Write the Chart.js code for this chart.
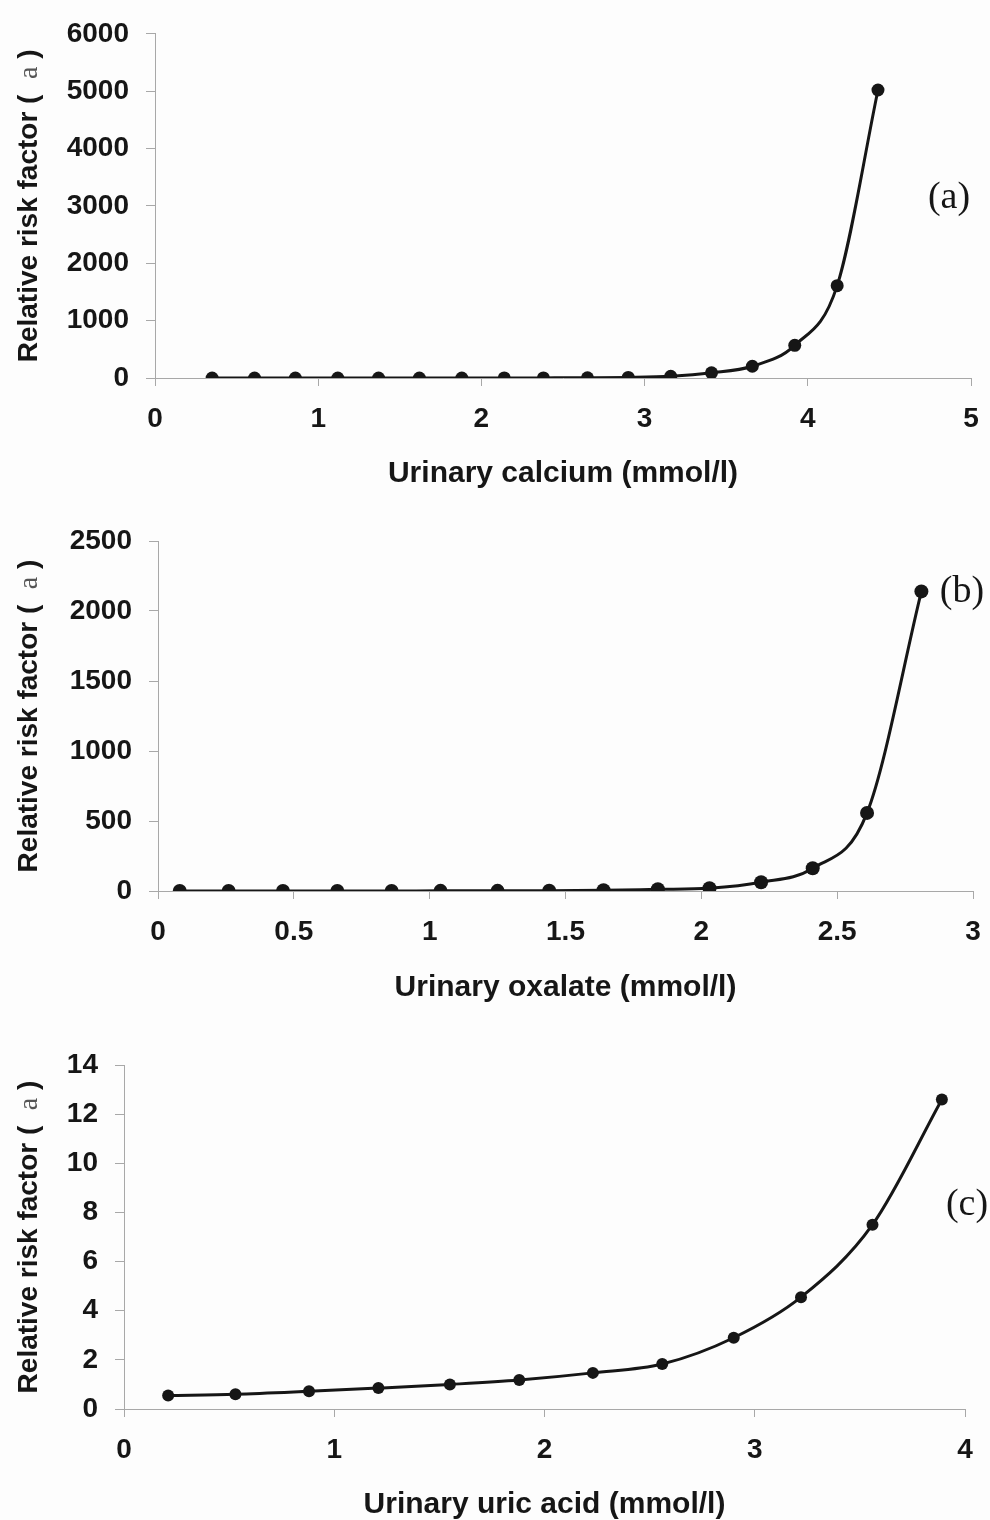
<!DOCTYPE html>
<html>
<head>
<meta charset="utf-8">
<script src="https://cdn.jsdelivr.net/npm/chart.js@4.4.0/dist/chart.umd.min.js"></script>
<style>
  html, body { margin: 0; padding: 0; background: #fdfdfd; }
  .panel { position: absolute; left: 0; }
</style>
</head>
<body>
<canvas id="chartA" class="panel" style="top:0px" width="990" height="500"></canvas>
<canvas id="chartB" class="panel" style="top:500px" width="990" height="510"></canvas>
<canvas id="chartC" class="panel" style="top:1010px" width="990" height="510"></canvas>
<script>
// (a) urinary calcium
const calciumX = [0.35, 0.61, 0.86, 1.12, 1.37, 1.62, 1.88, 2.14, 2.38, 2.65, 2.90, 3.16, 3.41, 3.66, 3.92, 4.18, 4.43];
const calciumRisk = [0, 0, 0, 0, 0, 0, 0, 1, 2, 4, 10, 30, 90, 205, 570, 1610, 5020];
const calciumXTicks = [0, 1, 2, 3, 4, 5];
const calciumYTicks = [0, 1000, 2000, 3000, 4000, 5000, 6000];

// (b) urinary oxalate
const oxalateX = [0.08, 0.26, 0.46, 0.66, 0.86, 1.04, 1.25, 1.44, 1.64, 1.84, 2.03, 2.22, 2.41, 2.61, 2.81];
const oxalateRisk = [0, 0, 0, 0, 0, 1, 1, 2, 5, 12, 20, 62, 162, 558, 2140];
const oxalateXTicks = [0, 0.5, 1, 1.5, 2, 2.5, 3];
const oxalateYTicks = [0, 500, 1000, 1500, 2000, 2500];

// (c) urinary uric acid
const uricX = [0.21, 0.53, 0.88, 1.21, 1.55, 1.88, 2.23, 2.56, 2.90, 3.22, 3.56, 3.89];
const uricRisk = [0.55, 0.6, 0.72, 0.85, 1.0, 1.18, 1.47, 1.83, 2.9, 4.55, 7.5, 12.6];
const uricXTicks = [0, 1, 2, 3, 4];
const uricYTicks = [0, 2, 4, 6, 8, 10, 12, 14];

const tickFont = { family: "'Liberation Sans', Arial, sans-serif", size: 28, weight: 'bold' };
const axisGrey = '#a8a8a8';
const inkColor = '#161616';

// draws the rotated y title with its small serif "a", plus the (a)/(b)/(c) tag
const panelText = {
  id: 'panelText',
  afterDraw(chart, args, opts) {
    const { ctx, chartArea } = chart;
    const cy = (chartArea.top + chartArea.bottom) / 2;
    const parts = [
      ['Relative risk factor (', "bold 28px 'Liberation Sans', Arial, sans-serif", inkColor],
      ['  ', "bold 28px 'Liberation Sans', Arial, sans-serif", inkColor],
      ['a', "28px 'Liberation Serif', 'Times New Roman', serif", '#555'],
      [' )', "bold 28px 'Liberation Sans', Arial, sans-serif", inkColor]
    ];
    ctx.save();
    ctx.translate(37, cy);
    ctx.rotate(-Math.PI / 2);
    ctx.textBaseline = 'alphabetic';
    ctx.textAlign = 'left';
    let total = 0;
    parts.forEach(p => { ctx.font = p[1]; total += ctx.measureText(p[0]).width; });
    let x = -total / 2;
    parts.forEach(p => {
      ctx.font = p[1];
      ctx.fillStyle = p[2];
      ctx.fillText(p[0], x, 0);
      x += ctx.measureText(p[0]).width;
    });
    ctx.restore();

    ctx.save();
    ctx.font = "38px 'Liberation Serif', 'Times New Roman', serif";
    ctx.fillStyle = inkColor;
    ctx.textAlign = 'center';
    ctx.textBaseline = 'middle';
    ctx.fillText(opts.tag, opts.tagX, opts.tagY);
    ctx.restore();
  }
};

function makeChart(id, xs, ys, xTicks, yTicks, xTitle, box) {
  const points = xs.map((x, i) => ({ x: x, y: ys[i] }));
  return new Chart(document.getElementById(id), {
    type: 'line',
    data: {
      datasets: [{
        data: points,
        borderColor: inkColor,
        borderWidth: 3,
        backgroundColor: inkColor,
        pointBackgroundColor: inkColor,
        pointBorderColor: inkColor,
        pointRadius: box.pointRadius,
        pointBorderWidth: 0,
        cubicInterpolationMode: 'monotone',
        fill: false
      }]
    },
    options: {
      responsive: false,
      animation: false,
      layout: { padding: { top: box.top, right: box.right, left: 0, bottom: 0 } },
      plugins: {
        legend: { display: false },
        tooltip: { enabled: false },
        panelText: { tag: box.tag, tagX: box.tagX, tagY: box.tagY }
      },
      scales: {
        x: {
          type: 'linear',
          min: xTicks[0],
          max: xTicks[xTicks.length - 1],
          afterBuildTicks: s => { s.ticks = xTicks.map(v => ({ value: v })); },
          afterFit: s => { s.height = box.xHeight; s.paddingLeft = 0; s.paddingRight = 0; },
          grid: { drawOnChartArea: false, drawTicks: true, tickLength: 8, color: axisGrey, lineWidth: 1 },
          border: { display: true, color: axisGrey, width: 1 },
          ticks: { font: tickFont, color: inkColor, padding: 16, maxRotation: 0, callback: v => String(v) },
          title: {
            display: true,
            text: xTitle,
            color: inkColor,
            font: { family: tickFont.family, size: 30, weight: 'bold', lineHeight: 1.0 },
            padding: { top: 0, bottom: box.titlePad }
          }
        },
        y: {
          min: yTicks[0],
          max: yTicks[yTicks.length - 1],
          afterBuildTicks: s => { s.ticks = yTicks.map(v => ({ value: v })); },
          afterFit: s => { s.width = box.left; },
          grid: { drawOnChartArea: false, drawTicks: true, tickLength: 9, color: axisGrey, lineWidth: 1 },
          border: { display: true, color: axisGrey, width: 1 },
          ticks: { font: tickFont, color: inkColor, padding: 17, callback: v => String(v) }
        }
      }
    },
    plugins: [panelText]
  });
}

makeChart('chartA', calciumX, calciumRisk, calciumXTicks, calciumYTicks, 'Urinary calcium (mmol/l)',
  { top: 32, right: 19, left: 155, xHeight: 122, titlePad: 11, pointRadius: 6.5, tag: '(a)', tagX: 949, tagY: 198 });
makeChart('chartB', oxalateX, oxalateRisk, oxalateXTicks, oxalateYTicks, 'Urinary oxalate (mmol/l)',
  { top: 41, right: 17, left: 158, xHeight: 119, titlePad: 7, pointRadius: 7, tag: '(b)', tagX: 962, tagY: 92 });
makeChart('chartC', uricX, uricRisk, uricXTicks, uricYTicks, 'Urinary uric acid (mmol/l)',
  { top: 55, right: 25, left: 124, xHeight: 111, titlePad: 0, pointRadius: 6, tag: '(c)', tagX: 967, tagY: 195 });
</script>
</body>
</html>
